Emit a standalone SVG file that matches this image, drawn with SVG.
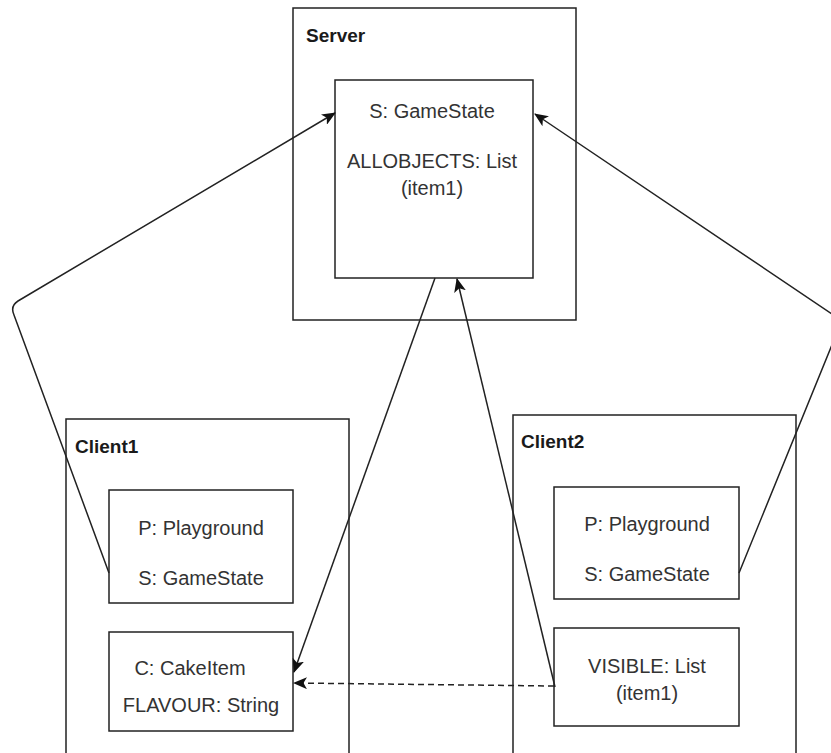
<svg xmlns="http://www.w3.org/2000/svg" width="831" height="753" viewBox="0 0 831 753">
  <defs>
    <style>
      .box { fill: #ffffff; stroke: #222222; stroke-width: 1.5; }
      .title { font-family: "Liberation Sans", Arial, sans-serif; font-size: 19px; font-weight: bold; fill: #1a1a1a; }
      .lbl { font-family: "Liberation Sans", Arial, sans-serif; font-size: 20px; fill: #333333; text-anchor: middle; }
      .edge { fill: none; stroke: #222222; stroke-width: 1.5; }
      .dash { stroke-dasharray: 6 4; }
    </style>
    <marker id="arrow" viewBox="0 0 14 12" refX="13" refY="6" markerWidth="14" markerHeight="12" markerUnits="userSpaceOnUse" orient="auto">
      <path d="M0,0 L14,6 L0,12 L3.5,6 Z" fill="#111111"/>
    </marker>
  </defs>

  <rect width="831" height="753" fill="#ffffff"/>

  <!-- Server -->
  <g id="server">
    <rect class="box" x="293" y="8" width="283" height="312"/>
    <text class="title" x="306" y="42">Server</text>
    <g id="server-state">
      <rect class="box" x="335" y="80" width="198" height="198"/>
      <text class="lbl" x="432" y="118">S: GameState</text>
      <text class="lbl" x="432" y="168">ALLOBJECTS: List</text>
      <text class="lbl" x="432" y="195">(item1)</text>
    </g>
  </g>

  <!-- Client1 -->
  <g id="client1">
    <rect class="box" x="66" y="419" width="283" height="350"/>
    <text class="title" x="75" y="453">Client1</text>
    <g id="client1-state">
      <rect class="box" x="109" y="490" width="184" height="113"/>
      <text class="lbl" x="201" y="535">P: Playground</text>
      <text class="lbl" x="201" y="585">S: GameState</text>
    </g>
    <g id="client1-cake">
      <rect class="box" x="109" y="632" width="184" height="99"/>
      <text class="lbl" x="190" y="675">C: CakeItem</text>
      <text class="lbl" x="201" y="712">FLAVOUR: String</text>
    </g>
  </g>

  <!-- Client2 -->
  <g id="client2">
    <rect class="box" x="513" y="415" width="283" height="350"/>
    <text class="title" x="521" y="448">Client2</text>
    <g id="client2-state">
      <rect class="box" x="554" y="487" width="185" height="112"/>
      <text class="lbl" x="647" y="531">P: Playground</text>
      <text class="lbl" x="647" y="581">S: GameState</text>
    </g>
    <g id="client2-visible">
      <rect class="box" x="554" y="628" width="185" height="98"/>
      <text class="lbl" x="647" y="673">VISIBLE: List</text>
      <text class="lbl" x="647" y="700">(item1)</text>
    </g>
  </g>

  <!-- Connectors -->
  <g id="connectors">
    <path class="edge" d="M109,573 L14,315 Q10,306 18,301 L335,113" marker-end="url(#arrow)"/>
    <path class="edge" d="M739,573 L838,330 Q842,320 832,314 L535,114" marker-end="url(#arrow)"/>
    <path class="edge" d="M435,278 L294,672" marker-end="url(#arrow)"/>
    <path class="edge" d="M555,687 L457,279" marker-end="url(#arrow)"/>
    <path class="edge dash" d="M554,686 L294,683" marker-end="url(#arrow)"/>
  </g>
</svg>
